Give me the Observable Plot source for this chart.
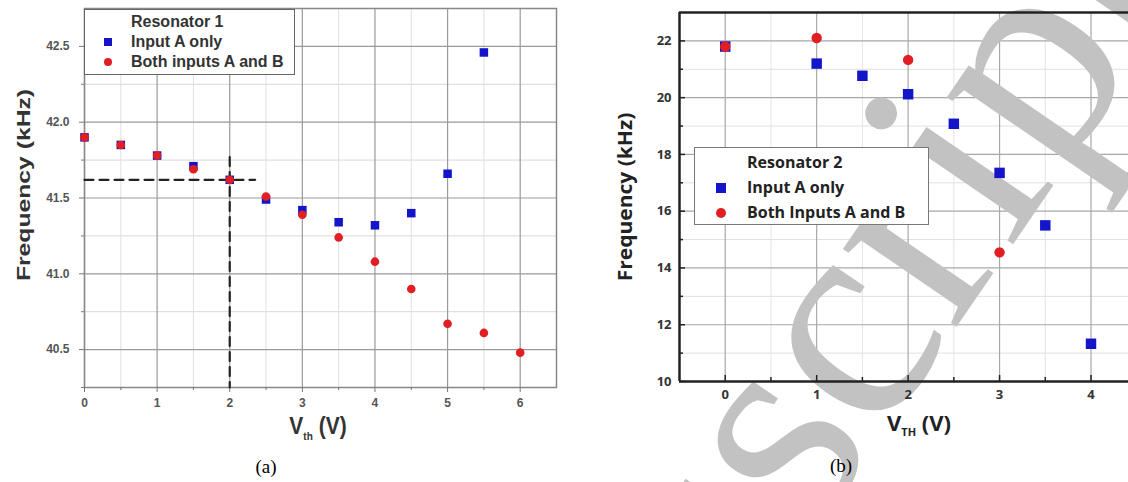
<!DOCTYPE html>
<html><head><meta charset="utf-8">
<script src="https://cdn.jsdelivr.net/npm/d3@7"></script>
<script src="https://cdn.jsdelivr.net/npm/@observablehq/plot@0.6"></script>
<style>
html,body{margin:0;padding:0;background:#fff;overflow:hidden;}
#wrap{position:relative;width:1128px;height:482px;overflow:hidden;}
#wrap svg{position:absolute;top:0;}
.ov{position:absolute;white-space:nowrap;}
.legA{left:84px;top:9px;width:211px;height:66px;border:1.5px solid #666;background:#fff;box-sizing:border-box;font:bold 16px "Liberation Sans",Arial,sans-serif;color:#333;}
.legB{left:694px;top:147px;width:235px;height:78px;border:1.5px solid #777;background:#fff;box-sizing:border-box;font:bold 16px "Open Sans",sans-serif;color:#222;}
.row{position:absolute;line-height:1;}
.mk{position:absolute;}
.cap{font:19px "Liberation Serif","Times New Roman",serif;color:#000;transform:translate(-50%,-50%);}
</style></head><body><div id="wrap"></div>
<script>
// ---------- Panel (a): Resonator 1 ----------
const vthA_inputA = [0, 0.5, 1, 1.5, 2, 2.5, 3, 3.5, 4, 4.5, 5, 5.5];
const freqA_inputA = [41.90, 41.85, 41.78, 41.71, 41.62, 41.49, 41.42, 41.34, 41.32, 41.40, 41.66, 42.46];
const vthA_both = [0, 0.5, 1, 1.5, 2, 2.5, 3, 3.5, 4, 4.5, 5, 5.5, 6];
const freqA_both = [41.90, 41.85, 41.78, 41.69, 41.62, 41.51, 41.39, 41.24, 41.08, 40.90, 40.67, 40.61, 40.48];
const xDomA = [0, 6.5];
const yDomA = [40.25, 42.75];
const xMajorA = [0, 1, 2, 3, 4, 5, 6];
const xMinorA = [0.5, 1.5, 2.5, 3.5, 4.5, 5.5];
const yMajorA = [40.5, 41.0, 41.5, 42.0, 42.5];
const yMinorA = [40.25, 40.75, 41.25, 41.75, 42.25];
// dashed guide at V = 2 V, f = 41.62 kHz
const guideVA = 2, guideFA = 41.62, guideHEndA = 2.35, guideVTopA = 41.77;

// ---------- Panel (b): Resonator 2 ----------
const vthB_inputA = [0, 1, 1.5, 2, 2.5, 3, 3.5, 4];
const freqB_inputA = [21.8, 21.2, 20.77, 20.12, 19.08, 17.35, 15.5, 11.33];
const vthB_both = [0, 1, 2, 3];
const freqB_both = [21.8, 22.1, 21.33, 14.55];
const xDomB = [-0.5, 4.41];
const yDomB = [10, 23];
const xMajorB = [0, 1, 2, 3, 4];
const xMinorB = [0.5, 1.5, 2.5, 3.5];
const yMajorB = [10, 12, 14, 16, 18, 20, 22];
const yMinorB = [11, 13, 15, 17, 19, 21];

const seriesNames = ["Input A only", "Both inputs A and B"];
const watermark = ["Manuscript"];
const blue = "#1414c8", red = "#e01e24";

const zip = (xs, ys) => xs.map((x, i) => ({v: x, f: ys[i]}));
const wrap = document.getElementById("wrap");

// Panel A
const hA = 450, mtA = 8, mbA = 63;
const plotA = Plot.plot({
  width: 570, height: hA,
  marginLeft: 84, marginRight: 14, marginTop: mtA, marginBottom: mbA,
  x: {domain: xDomA, label: null},
  y: {domain: yDomA, label: null},
  style: {fontFamily: "'Liberation Sans', Arial, sans-serif", fontSize: "12px", fontWeight: "bold", color: "#555", background: "transparent"},
  marks: [
    Plot.gridY(yMinorA, {stroke: "#d8d8d8", strokeOpacity: 1}),
    Plot.gridX(xMinorA, {stroke: "#e0e0e0", strokeOpacity: 1}),
    Plot.gridY(yMajorA, {stroke: "#9a9a9a", strokeOpacity: 1, strokeWidth: 1.2}),
    Plot.gridX(xMajorA, {stroke: "#9a9a9a", strokeOpacity: 1, strokeWidth: 1.2}),
    Plot.frame({stroke: "#888", strokeWidth: 1.5}),
    Plot.axisX(xMajorA, {tickSize: 5, tickPadding: 6, stroke: "#777", fill: "#555"}),
    Plot.axisX(xMinorA, {tickSize: 3, tickFormat: () => "", stroke: "#777"}),
    Plot.axisY(yMajorA, {tickSize: 5, tickPadding: 10, tickFormat: d3.format(".1f"), stroke: "#777", fill: "#555"}),
    Plot.axisY(yMinorA, {tickSize: 3, tickFormat: () => "", stroke: "#777"}),
    Plot.lineY([{v: xDomA[0], f: guideFA}, {v: guideHEndA, f: guideFA}], {x: "v", y: "f", stroke: "#222", strokeWidth: 2.2, strokeDasharray: "9,6"}),
    Plot.lineY([{v: guideVA, f: guideVTopA}, {v: guideVA, f: yDomA[0]}], {x: "v", y: "f", stroke: "#222", strokeWidth: 2.2, strokeDasharray: "9,6"}),
    Plot.dot(zip(vthA_inputA, freqA_inputA), {x: "v", y: "f", symbol: "square", r: 4.8, fill: blue, stroke: "none"}),
    Plot.dot(zip(vthA_both, freqA_both), {x: "v", y: "f", symbol: "circle", r: 4.3, fill: red, stroke: "none"})
  ]
});
plotA.style.left = "0px";
wrap.appendChild(plotA);

// Panel B
const wB = 558, hB = 482, mlB = 109, mtB = 12, mbB = 101;
const fwB = wB - mlB, fhB = hB - mtB - mbB;
const plotB = Plot.plot({
  width: wB, height: hB,
  marginLeft: mlB, marginRight: 0, marginTop: mtB, marginBottom: mbB,
  x: {domain: xDomB, label: null},
  y: {domain: yDomB, label: null},
  style: {fontFamily: "'Open Sans', sans-serif", fontSize: "13px", fontWeight: "bold", color: "#333", background: "transparent", overflow: "visible"},
  marks: [
    Plot.gridY(yMinorB, {stroke: "#e0e0e0", strokeOpacity: 1}),
    Plot.gridX(xMinorB, {stroke: "#e4e4e4", strokeOpacity: 1}),
    Plot.gridY(yMajorB, {stroke: "#a8a8a8", strokeOpacity: 1, strokeWidth: 1.2}),
    Plot.gridX(xMajorB, {stroke: "#a8a8a8", strokeOpacity: 1, strokeWidth: 1.2}),
    // journal watermark (decoration, drawn beneath axes and data points)
    Plot.text(watermark, {frameAnchor: "top-left", dx: -263, dy: 1103, rotate: -55.6, textAnchor: "start", lineAnchor: "bottom",
      fontSize: 300, fontWeight: "normal", fontFamily: "'Liberation Serif', 'Times New Roman', serif", fill: "#c2c2c2"}),
    Plot.tickX(xMajorB, {insetTop: fhB - 6, stroke: "#222", strokeWidth: 1.5}),
    Plot.tickX(xMinorB, {insetTop: fhB - 4, stroke: "#222", strokeWidth: 1.5}),
    Plot.tickY(yMajorB, {insetRight: fwB - 6, stroke: "#222", strokeWidth: 1.5}),
    Plot.tickY(yMinorB, {insetRight: fwB - 4, stroke: "#222", strokeWidth: 1.5}),
    Plot.ruleX([xDomB[0]], {stroke: "#222", strokeWidth: 2.5}),
    Plot.ruleY(yDomB, {stroke: "#222", strokeWidth: 2.5}),
    Plot.axisX(xMajorB, {tickSize: 0, tickPadding: 8, fill: "#333"}),
    Plot.axisY(yMajorB, {tickSize: 0, tickPadding: 8, fill: "#333"}),
    Plot.dot(zip(vthB_inputA, freqB_inputA), {x: "v", y: "f", symbol: "square", r: 5.9, fill: blue, stroke: "none"}),
    Plot.dot(zip(vthB_both, freqB_both), {x: "v", y: "f", symbol: "circle", r: 5.2, fill: red, stroke: "none"})
  ]
});
plotB.style.left = "570px";
wrap.appendChild(plotB);

// ---------- Text overlays (titles, legends, captions) ----------
function add(html, cls, css) {
  const d = document.createElement("div");
  d.className = "ov " + (cls || "");
  d.innerHTML = html;
  Object.assign(d.style, css || {});
  wrap.appendChild(d);
  return d;
}
// Panel A titles
add("Frequency (kHz)", "", {left: "24px", top: "185px", font: "bold 19px 'Liberation Sans', Arial, sans-serif", color: "#333", transform: "translate(-50%,-50%) rotate(-90deg) scaleX(1.3)"});
add("V<sub style='font-size:10px;vertical-align:-5px'>th</sub> (V)", "", {left: "318px", top: "427px", font: "bold 21px 'Liberation Sans', Arial, sans-serif", color: "#333", transform: "translate(-50%,-50%) scaleY(1.15)"});
// Panel B titles
add("Frequency (kHz)", "", {left: "624px", top: "197px", font: "bold 20px 'Open Sans', sans-serif", color: "#222", transform: "translate(-50%,-50%) rotate(-90deg) scaleX(1.05)"});
add("V<sub style='font-size:11px;vertical-align:-5px'>TH</sub> (V)", "", {left: "919px", top: "423px", font: "bold 22px 'Open Sans', sans-serif", color: "#222", transform: "translate(-50%,-50%)"});

// Legend A
const legA = add("", "legA");
const rowsA = [["Resonator 1", null], [seriesNames[0], "sq"], [seriesNames[1], "ci"]];
rowsA.forEach(([t, m], i) => {
  const r = document.createElement("div"); r.className = "row";
  r.textContent = t; r.style.left = "46px"; r.style.top = (4 + i * 20) + "px";
  legA.appendChild(r);
  if (m) {
    const k = document.createElement("div"); k.className = "mk";
    Object.assign(k.style, {left: "19px", top: (8 + i * 20) + "px", width: "8px", height: "8px", background: m === "sq" ? blue : red, borderRadius: m === "ci" ? "50%" : "0"});
    legA.appendChild(k);
  }
});
// Legend B
const legB = add("", "legB");
const rowsB = [["Resonator 2", null], [seriesNames[0], "sq"], ["Both Inputs A and B", "ci"]];
rowsB.forEach(([t, m], i) => {
  const r = document.createElement("div"); r.className = "row";
  r.textContent = t; r.style.left = "52px"; r.style.top = (6 + i * 25) + "px";
  legB.appendChild(r);
  if (m) {
    const k = document.createElement("div"); k.className = "mk";
    Object.assign(k.style, {left: "21px", top: (10 + i * 25) + "px", width: "10px", height: "10px", background: m === "sq" ? blue : red, borderRadius: m === "ci" ? "50%" : "0"});
    legB.appendChild(k);
  }
});
// Captions
add("(a)", "cap", {left: "266px", top: "467px"});
add("(b)", "cap", {left: "841px", top: "466px"});
</script></body></html>
